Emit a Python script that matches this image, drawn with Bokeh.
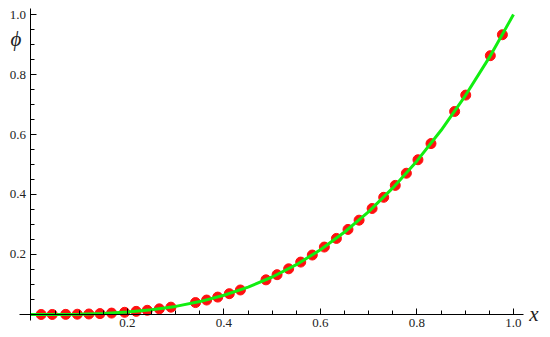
from bokeh.plotting import figure
from bokeh.models import LinearAxis, FixedTicker, PrintfTickFormatter, Label, Range1d
from bokeh.embed import file_html
from bokeh.resources import INLINE

# Curve (green line) values
curve_x = [0.0, 0.05, 0.1, 0.15, 0.2, 0.25, 0.3, 0.35, 0.4, 0.45, 0.5,
           0.55, 0.6, 0.65, 0.7, 0.75, 0.8, 0.85, 0.9, 0.95, 1.0]
curve_y = [0.0, 0.0001, 0.001, 0.003, 0.008, 0.016, 0.027, 0.043, 0.064, 0.091, 0.125,
           0.166, 0.216, 0.275, 0.343, 0.422, 0.512, 0.614, 0.729, 0.857, 1.0]

# Red points
pts_x = [0.021, 0.044, 0.072, 0.096, 0.12, 0.143, 0.167, 0.194, 0.218, 0.241,
         0.266, 0.29, 0.341, 0.364, 0.387, 0.411, 0.434, 0.487, 0.51, 0.534,
         0.559, 0.583, 0.608, 0.633, 0.657, 0.68, 0.707, 0.731, 0.755, 0.778,
         0.802, 0.829, 0.878, 0.901, 0.952, 0.977]
pts_y = [0.0, 0.0001, 0.0004, 0.0009, 0.0017, 0.0029, 0.0047, 0.0073, 0.0104, 0.014,
         0.0188, 0.0244, 0.0397, 0.0482, 0.058, 0.0694, 0.0817, 0.1155, 0.1327, 0.1523,
         0.1747, 0.1982, 0.2248, 0.2536, 0.2836, 0.3144, 0.3534, 0.3906, 0.4304, 0.4709,
         0.5158, 0.5697, 0.6768, 0.7314, 0.8628, 0.9326]

major_ticks = [0.2, 0.4, 0.6, 0.8, 1.0]
minor_ticks = [0.05, 0.1, 0.15, 0.25, 0.3, 0.35, 0.45, 0.5, 0.55, 0.65, 0.7, 0.75,
               0.85, 0.9, 0.95]

p = figure(width=550, height=337, output_backend="svg", toolbar_location=None,
           x_range=Range1d(-0.0632, 1.0767), y_range=Range1d(-0.0767, 1.0467),
           x_axis_type=None, y_axis_type=None,
           min_border_left=0, min_border_right=0, min_border_top=0, min_border_bottom=0)
p.outline_line_color = None
p.xgrid.visible = False
p.ygrid.visible = False

def style(ax):
    ax.ticker = FixedTicker(ticks=major_ticks, minor_ticks=minor_ticks)
    ax.formatter = PrintfTickFormatter(format="%.1f")
    ax.axis_line_color = "black"
    ax.axis_line_width = 1
    ax.major_tick_in = 6
    ax.major_tick_out = 0
    ax.minor_tick_in = 4
    ax.minor_tick_out = 0
    ax.major_tick_line_color = "black"
    ax.minor_tick_line_color = "black"
    ax.major_label_text_font = "Liberation Serif"
    ax.major_label_text_font_size = "13px"
    ax.major_label_text_color = "#222222"
    ax.major_label_standoff = 5

xa = LinearAxis(fixed_location=0, bounds=(-0.024, 1.02))
style(xa)
p.add_layout(xa, "below")
ya = LinearAxis(fixed_location=0, bounds=(-0.02, 1.02))
style(ya)
p.add_layout(ya, "left")

p.scatter(pts_x, pts_y, size=10, color="#ff1010", line_color="#ff1010")
p.line(curve_x, curve_y, line_color="#11ee11", line_width=3)

p.add_layout(Label(x=-0.031, y=0.92, text="\u03d5", text_font="Liberation Serif",
                   text_font_style="italic", text_font_size="21px", text_color="#222222",
                   text_align="center", text_baseline="middle"))
p.add_layout(Label(x=1.0425, y=0.0, text="x", text_font="Liberation Serif",
                   text_font_style="italic", text_font_size="21px", text_color="#222222",
                   text_align="center", text_baseline="middle"))

open("out.html", "w").write(file_html(p, INLINE))
